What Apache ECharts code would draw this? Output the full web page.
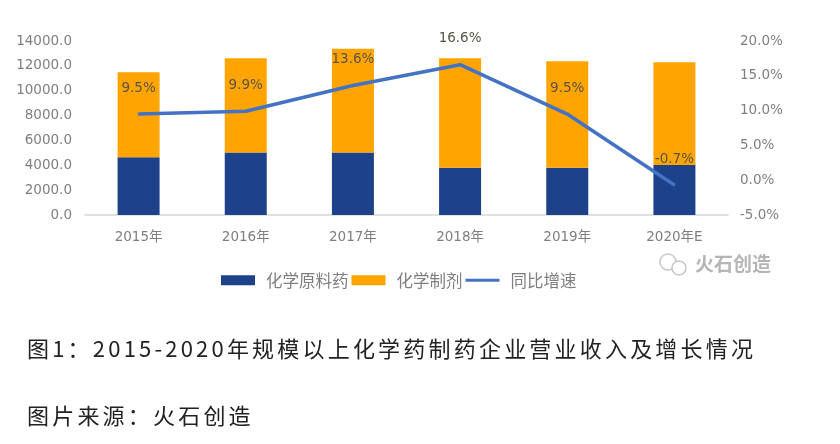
<!DOCTYPE html>
<html>
<head>
<meta charset="utf-8">
<script src="https://cdn.jsdelivr.net/npm/echarts@6/dist/echarts.min.js"></script>
<style>
html,body{margin:0;padding:0;background:#fff;}
#wrap{position:relative;width:840px;height:444px;overflow:hidden;}
#chart{position:absolute;left:0;top:0;width:840px;height:444px;}
.cap{position:absolute;left:27px;font-family:"Noto Sans CJK SC","Noto Sans",sans-serif;font-size:22px;letter-spacing:3.2px;color:#222;white-space:nowrap;line-height:30px;}
</style>
</head>
<body>
<div id="wrap">
<div id="chart"></div>
<div class="cap" style="top:332px;">图1：2015-2020年规模以上化学药制药企业营业收入及增长情况</div>
<div class="cap" style="top:399px;">图片来源：火石创造</div>
</div>
<script>
const categories = ['2015年','2016年','2017年','2018年','2019年','2020年E'];
const apiValues = [4640, 5020, 5020, 3810, 3810, 4020];
const totalValues = [11480, 12610, 13380, 12610, 12370, 12290];
const prepValues = totalValues.map((t, i) => t - apiValues[i]);
const growthValues = [9.5, 9.9, 13.6, 16.6, 9.5, -0.7];
const seriesNames = ['化学原料药', '化学制剂', '同比增速'];

const chart = echarts.init(document.getElementById('chart'));
const axisFont = {fontFamily: 'DejaVu Sans, Noto Sans CJK SC', fontSize: 13.5, color: '#7f7f7f'};
chart.setOption({
  animation: false,
  grid: {left: 85, right: 112, top: 41, bottom: 229},
  legend: {
    data: [
      {name: seriesNames[0], icon: 'rect'},
      {name: seriesNames[1], icon: 'rect'},
      {name: seriesNames[2], icon: 'path://M0,0 L34,0 L34,3 L0,3 Z'}
    ],
    left: 216, top: 267,
    itemWidth: 34, itemHeight: 10, itemGap: 3,
    textStyle: {fontFamily: 'Noto Sans CJK SC', fontSize: 16.5, color: '#7f7f7f', padding: [0, 0, 0, 6]}
  },
  xAxis: {
    type: 'category', data: categories,
    axisLine: {lineStyle: {color: '#d9d9d9', width: 1.5}},
    axisTick: {show: false},
    axisLabel: Object.assign({margin: 16}, axisFont)
  },
  yAxis: [
    {type: 'value', min: 0, max: 14000, interval: 2000,
     axisLine: {show: false}, axisTick: {show: false}, splitLine: {show: false},
     axisLabel: Object.assign({margin: 13, formatter: v => v.toFixed(1)}, axisFont)},
    {type: 'value', min: -5, max: 20, interval: 5,
     axisLine: {show: false}, axisTick: {show: false}, splitLine: {show: false},
     axisLabel: Object.assign({margin: 12, formatter: v => v.toFixed(1) + '%'}, axisFont)}
  ],
  series: [
    {name: seriesNames[0], type: 'bar', stack: 'rev', data: apiValues, barWidth: 42,
     itemStyle: {color: '#1d428a'}},
    {name: seriesNames[1], type: 'bar', stack: 'rev', data: prepValues, barWidth: 42,
     itemStyle: {color: '#ffa400'}},
    {name: seriesNames[2], type: 'line', yAxisIndex: 1, data: growthValues, z: 5,
     symbol: 'circle', symbolSize: 2, showSymbol: true,
     lineStyle: {color: '#4472c4', width: 3.5}, itemStyle: {color: '#4472c4'},
     label: {show: true, position: 'top', distance: 18, formatter: p => p.value.toFixed(1) + '%',
             fontFamily: 'DejaVu Sans', fontSize: 13.5, color: '#5a5448'}}
  ],
  graphic: [
    {type: 'circle', shape: {cx: 668, cy: 262, r: 8}, style: {fill: 'none', stroke: '#c8c8c8', lineWidth: 1.5}},
    {type: 'circle', shape: {cx: 679, cy: 268, r: 7}, style: {fill: '#fff', stroke: '#c8c8c8', lineWidth: 1.5}},
    {type: 'text', left: 695, top: 254, style: {text: '火石创造', fontFamily: 'Noto Sans CJK SC', fontSize: 19, fontWeight: 'bold', fill: '#b5b5b5'}}
  ]
});
</script>
</body>
</html>
